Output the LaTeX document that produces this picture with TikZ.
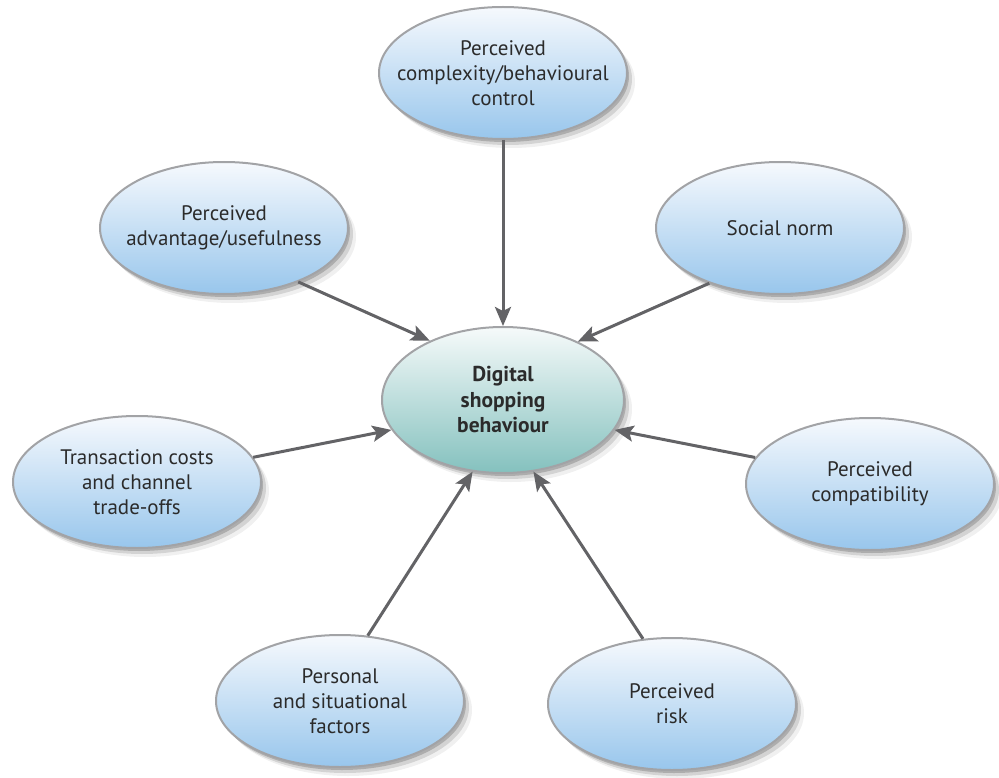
\documentclass[tikz,border=0pt]{standalone}
\usepackage{fontspec}
\setmainfont{PT Sans}
\usetikzlibrary{shapes.geometric,arrows.meta,shadows}
\definecolor{ebord}{HTML}{A2A3A6}
\definecolor{btop}{HTML}{F6F9FD}
\definecolor{bbot}{HTML}{98C6EC}
\definecolor{ttop}{HTML}{F6FAFA}
\definecolor{tbot}{HTML}{84C1BE}
\definecolor{arr}{HTML}{636366}
\definecolor{txt}{HTML}{2B2B2B}
\tikzset{
  shad/.style={
    drop shadow={shadow xshift=2pt,shadow yshift=-3pt,opacity=0.18,fill=black},
    drop shadow={shadow xshift=5pt,shadow yshift=-6pt,opacity=0.12,fill=black},
    drop shadow={shadow xshift=8pt,shadow yshift=-9pt,opacity=0.06,fill=black}},
  factor/.style={ellipse, shad, draw=ebord, line width=2pt, top color=btop, bottom color=bbot,
    minimum width=248pt, minimum height=132pt, inner xsep=-45pt, inner ysep=-25pt, align=center,
    font=\fontsize{21}{25}\selectfont, text=txt},
  core/.style={factor, top color=ttop, bottom color=tbot, minimum width=242pt, minimum height=146pt,
    font=\fontsize{21.5}{25.5}\selectfont\bfseries},
  link/.style={draw=arr, line width=3pt, -{Stealth[length=19pt,width=16pt,inset=4pt]}}
}
\begin{document}
\begin{tikzpicture}[x=1pt,y=-1pt]
\useasboundingbox (0,0) rectangle (999,778);
\node[core] (dsb) at (503,400) {Digital\\shopping\\behaviour};
\node[factor] (cplx) at (503,73) {Perceived\\complexity/behavioural\\control};
\node[factor] (adv) at (224,228) {Perceived\\advantage/usefulness};
\node[factor] (soc) at (780,228) {Social norm};
\node[factor] (trans) at (137,482) {Transaction costs\\and channel\\trade-offs};
\node[factor] (comp) at (870,484) {Perceived\\compatibility};
\node[factor] (pers) at (340,701) {Personal\\and situational\\factors};
\node[factor] (risk) at (672,704) {Perceived\\risk};
\draw[link] (cplx.south) -- (dsb.north);
\draw[link] (adv.-36) -- (dsb.141);
\draw[link] (soc.218) -- (dsb.38);
\draw[link] (trans.12) -- (dsb.195);
\draw[link] (comp.167) -- (dsb.-15);
\draw[link] (pers.67) -- (dsb.247);
\draw[link] (risk.114) -- (dsb.-67);
\end{tikzpicture}
\end{document}
